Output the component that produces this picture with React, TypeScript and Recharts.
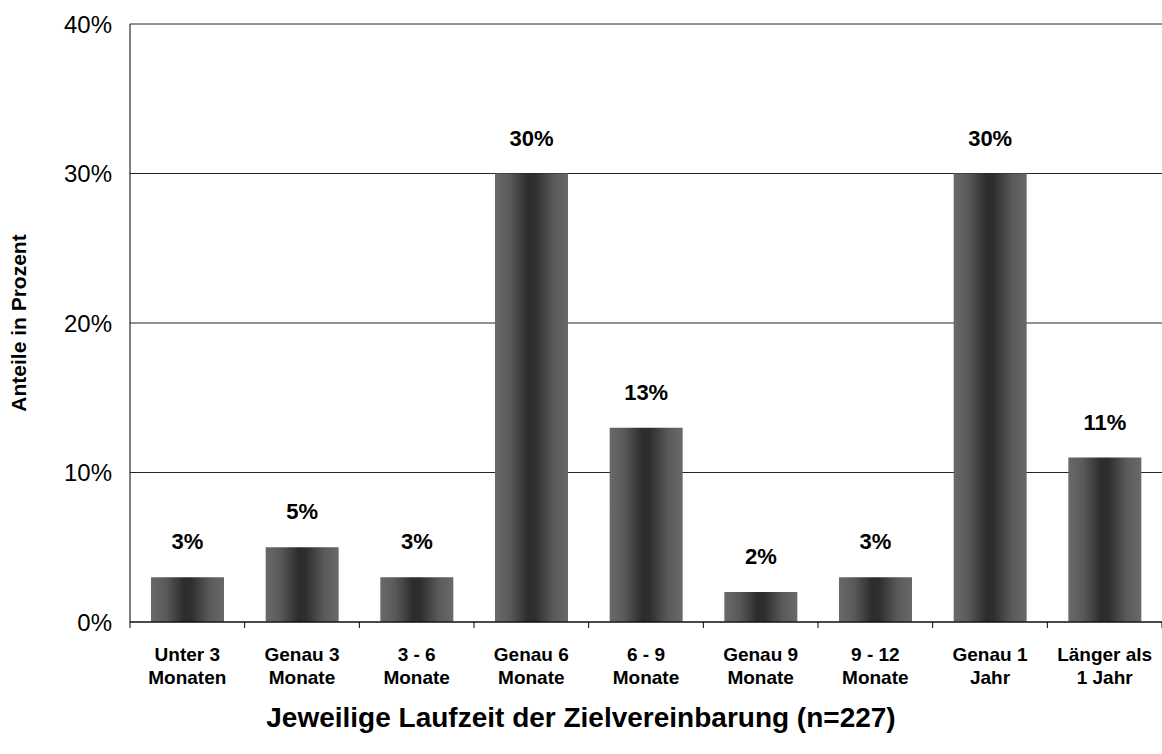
import { BarChart, Bar, XAxis, YAxis, CartesianGrid, LabelList } from "recharts";

const categories = [
  "Unter 3\nMonaten",
  "Genau 3\nMonate",
  "3 - 6\nMonate",
  "Genau 6\nMonate",
  "6 - 9\nMonate",
  "Genau 9\nMonate",
  "9 - 12\nMonate",
  "Genau 1\nJahr",
  "Länger als\n1 Jahr",
];
const shares = [3, 5, 3, 30, 13, 2, 3, 30, 11];
const yTicks = [0, 10, 20, 30, 40];

const data = categories.map((name, i) => ({ name, value: shares[i] }));

const FONT = "'Liberation Sans', Arial, sans-serif";

function CategoryTick(props: any) {
  const { x, y, payload, index, width, visibleTicksCount } = props;
  const step = width / (visibleTicksCount || categories.length);
  const lines = String(payload.value).split("\n");
  const isLast = index === categories.length - 1;
  return (
    <g>
      <line x1={x - step / 2} x2={x - step / 2} y1={y} y2={y + 6} stroke="#000" />
      {isLast && <line x1={x + step / 2} x2={x + step / 2} y1={y} y2={y + 6} stroke="#000" />}
      <text x={x} y={y + 39} textAnchor="middle" fontFamily={FONT} fontWeight="bold" fontSize={19} fill="#000">
        {lines.map((l, k) => (
          <tspan key={k} x={x} dy={k === 0 ? 0 : 23}>
            {l}
          </tspan>
        ))}
      </text>
    </g>
  );
}

export default function App() {
  return (
    <div style={{ position: "absolute", left: 0, top: 0, width: 1162, height: 754, background: "#fff" }}>
      <BarChart
        width={1162}
        height={754}
        data={data}
        margin={{ top: 24, right: 0, bottom: 0, left: 8 }}
      >
        <defs>
          <linearGradient id="barGrad" x1="0" y1="0" x2="1" y2="0">
            <stop offset="0%" stopColor="#696969" />
            <stop offset="20%" stopColor="#5a5a5a" />
            <stop offset="45%" stopColor="#2c2c2c" />
            <stop offset="55%" stopColor="#2e2e2e" />
            <stop offset="80%" stopColor="#5a5a5a" />
            <stop offset="100%" stopColor="#696969" />
          </linearGradient>
        </defs>
        <CartesianGrid vertical={false} stroke="#000" strokeOpacity={0.85} />
        <XAxis
          dataKey="name"
          interval={0}
          tickLine={false}
          tickSize={0}
          tickMargin={0}
          axisLine={{ stroke: "#000" }}
          tick={<CategoryTick />}
          height={132}
        />
        <YAxis
          domain={[0, 40]}
          ticks={yTicks}
          tickFormatter={(v: number) => `${v}%`}
          width={122}
          tickLine={false}
          axisLine={{ stroke: "#000" }}
          tickMargin={12}
          tick={{ fontFamily: FONT, fontSize: 24, fill: "#000" }}
          label={{
            value: "Anteile in Prozent",
            angle: -90,
            position: "insideLeft",
            offset: 11,
            style: { textAnchor: "middle", fontFamily: FONT, fontWeight: "bold", fontSize: 21, fill: "#000" },
          }}
        />
        <Bar dataKey="value" fill="url(#barGrad)" barSize={73} isAnimationActive={false}>
          <LabelList
            dataKey="value"
            position="top"
            offset={28}
            formatter={(v: any) => `${v}%`}
            style={{ fontFamily: FONT, fontWeight: "bold", fontSize: 22, fill: "#000" }}
          />
        </Bar>
        <text
          x={581}
          y={727}
          textAnchor="middle"
          fontFamily={FONT}
          fontWeight="bold"
          fontSize={28}
          fill="#000"
        >
          Jeweilige Laufzeit der Zielvereinbarung (n=227)
        </text>
      </BarChart>
    </div>
  );
}
